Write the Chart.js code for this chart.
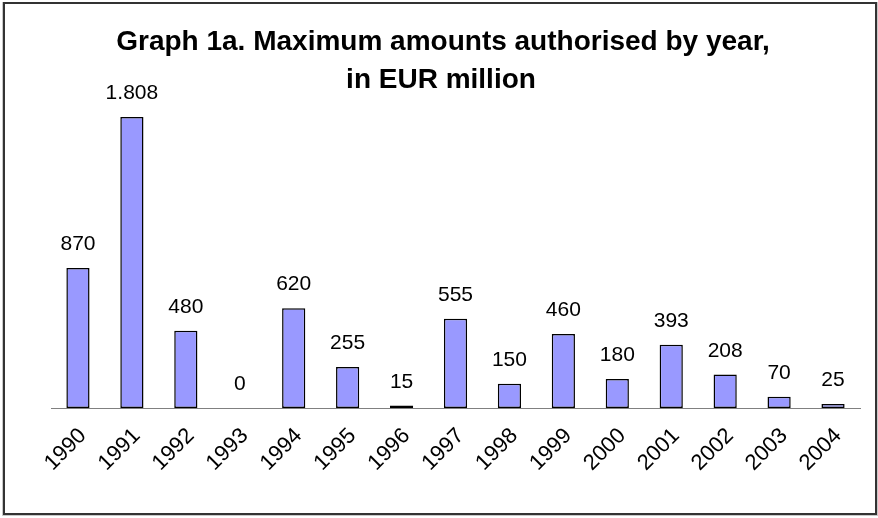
<!DOCTYPE html>
<html><head><meta charset="utf-8">
<script src="https://cdn.jsdelivr.net/npm/chart.js@4.4.0/dist/chart.umd.min.js"></script>
<style>html,body{margin:0;padding:0;background:#fff;}canvas{display:block}</style>
</head><body>
<canvas id="c" width="878" height="518"></canvas>
<script>
const years = ['1990','1991','1992','1993','1994','1995','1996','1997','1998','1999','2000','2001','2002','2003','2004'];
const amounts = [870,1808,480,0,620,255,15,555,150,460,180,393,208,70,25];
const valueLabels = ['870','1.808','480','0','620','255','15','555','150','460','180','393','208','70','25'];
const titleLines = ['Graph 1a. Maximum amounts authorised by year,','in EUR million'];
const yMax = 2000;

const framePlugin = {
  id: 'frame',
  beforeDraw(chart) {
    const ctx = chart.ctx;
    ctx.save();
    ctx.fillStyle = '#fff';
    ctx.fillRect(0, 0, chart.width, chart.height);
    ctx.strokeStyle = '#c8c8c8';
    ctx.lineWidth = 1;
    ctx.strokeRect(2.5, 2.5, 875, 513);
    ctx.strokeStyle = '#333';
    ctx.lineWidth = 2;
    ctx.strokeRect(4, 3, 872, 511);
    ctx.restore();
  }
};

const titlePlugin = {
  id: 'customTitle',
  afterDraw(chart) {
    const ctx = chart.ctx;
    ctx.save();
    ctx.fillStyle = '#000';
    ctx.font = 'bold 28px "Liberation Sans", Arial, sans-serif';
    ctx.textAlign = 'center';
    ctx.textBaseline = 'alphabetic';
    ctx.fillText(titleLines[0], 443, 50);
    ctx.fillText(titleLines[1], 441, 88);
    ctx.restore();
  }
};

const valuePlugin = {
  id: 'values',
  afterDatasetsDraw(chart) {
    const ctx = chart.ctx;
    const meta = chart.getDatasetMeta(0);
    ctx.save();
    ctx.fillStyle = '#000';
    ctx.font = '21px "Liberation Sans", Arial, sans-serif';
    ctx.textAlign = 'center';
    ctx.textBaseline = 'alphabetic';
    meta.data.forEach((el, i) => {
      ctx.fillText(valueLabels[i], el.x, el.y - 18);
    });
    ctx.restore();
  }
};

new Chart(document.getElementById('c'), {
  type: 'bar',
  data: {
    labels: years,
    datasets: [{
      data: amounts,
      backgroundColor: '#9999FF',
      borderColor: '#000',
      borderWidth: 1.5,
      borderSkipped: false,
      categoryPercentage: 1,
      barPercentage: 0.43
    }]
  },
  options: {
    responsive: false,
    animation: false,
    devicePixelRatio: 1,
    layout: { padding: { left: 51, right: 18, top: 86, bottom: 0 } },
    plugins: { legend: { display: false }, tooltip: { enabled: false }, title: { display: false } },
    scales: {
      y: { display: false, min: 0, max: yMax },
      x: {
        grid: { display: false, drawTicks: false },
        border: { display: true, color: '#808080', width: 1 },
        ticks: {
          color: '#000',
          font: { family: '"Liberation Sans", Arial, sans-serif', size: 22 },
          maxRotation: 45, minRotation: 45,
          padding: 15,
          labelOffset: 5,
          autoSkip: false
        },
        afterFit(s) { s.height = 110; }
      }
    }
  },
  plugins: [framePlugin, valuePlugin, titlePlugin]
});
</script>
</body></html>
